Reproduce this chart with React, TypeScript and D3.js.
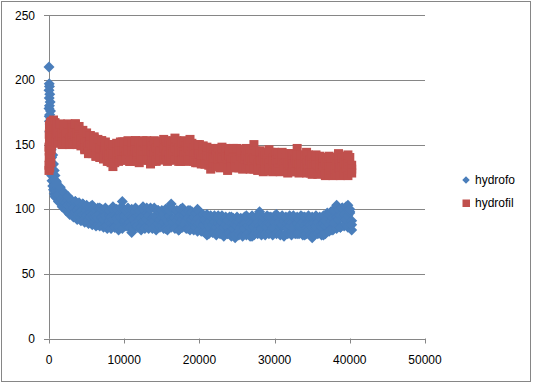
import React from "react";
import * as d3 from "d3";

const timeValues: number[] = [
  0, 30, 60, 100, 150, 200, 250, 300, 350, 400, 500, 600, 700, 800, 900,
  1000, 1250, 1500, 1750, 2000, 2250, 2500, 2750, 3000, 3250, 3500, 3750, 4000, 4250, 4500, 4750,
  5000, 5250, 5500, 5750, 6000, 6250, 6500, 6750, 7000, 7250, 7500, 7750, 8000, 8250, 8500, 8750,
  9000, 9250, 9500, 9750, 10000, 10250, 10500, 10750, 11000, 11250, 11500, 11750, 12000, 12250, 12500, 12750,
  13000, 13250, 13500, 13750, 14000, 14250, 14500, 14750, 15000, 15250, 15500, 15750, 16000, 16250, 16500, 16750,
  17000, 17250, 17500, 17750, 18000, 18250, 18500, 18750, 19000, 19250, 19500, 19750, 20000, 20250, 20500, 20750,
  21000, 21250, 21500, 21750, 22000, 22250, 22500, 22750, 23000, 23250, 23500, 23750, 24000, 24250, 24500, 24750,
  25000, 25250, 25500, 25750, 26000, 26250, 26500, 26750, 27000, 27250, 27500, 27750, 28000, 28250, 28500, 28750,
  29000, 29250, 29500, 29750, 30000, 30250, 30500, 30750, 31000, 31250, 31500, 31750, 32000, 32250, 32500, 32750,
  33000, 33250, 33500, 33750, 34000, 34250, 34500, 34750, 35000, 35250, 35500, 35750, 36000, 36250, 36500, 36750,
  37000, 37250, 37500, 37750, 38000, 38250, 38500, 38750, 39000, 39250, 39500, 39750, 40000, 40250,
];

// hydrofo, first reading at each time
const hydrofoA: number[] = [
  210, 197, 195, 189, 183, 176, 170, 163, 156, 150, 142, 135, 130, 126, 122,
  118, 112, 115, 108, 110, 103, 107, 99, 104, 96, 106, 94, 101, 93, 104, 92,
  99, 91, 97, 103, 90, 96, 88, 101, 93, 87, 98, 85, 95, 89, 102, 86,
  94, 84, 97, 106, 91, 99, 87, 95, 82, 93, 98, 86, 96, 84, 102, 90,
  97, 85, 101, 88, 94, 84, 99, 91, 87, 96, 85, 100, 89, 104, 92, 86,
  98, 84, 95, 101, 88, 97, 85, 99, 90, 94, 86, 100, 89, 95, 83, 91,
  80, 90, 85, 93, 82, 89, 95, 84, 90, 79, 92, 86, 81, 94, 85, 78,
  90, 83, 92, 80, 88, 95, 82, 90, 79, 87, 93, 84, 98, 86, 91, 80,
  89, 94, 83, 90, 85, 96, 82, 91, 87, 79, 93, 85, 90, 83, 95, 88,
  81, 92, 86, 94, 80, 89, 84, 93, 78, 90, 85, 92, 83, 88, 80, 91,
  86, 96, 84, 99, 89, 103, 92, 86, 101, 94, 88, 103, 97, 84,
];

// hydrofo, second reading at each time
const hydrofoB: number[] = [
  178, 172, 168, 160, 150, 143, 136, 130, 126, 122, 118, 115, 112, 110, 109,
  114, 111, 110, 108, 106, 105, 103, 102,
  100, 101, 98, 99, 97, 98, 96, 97,
  95, 97, 94, 96, 94, 95, 93, 96,
  94, 92, 95, 93, 91, 94, 92, 95,
  93, 90, 94, 92, 95, 91, 93, 90,
  94, 92, 89, 95, 91, 93, 90, 94,
  92, 95, 90, 93, 91, 94, 89, 92,
  94, 90, 93, 91, 95, 92, 90, 93,
  91, 94, 90, 92, 95, 91, 93, 89,
  92, 94, 90, 93, 89, 91, 88, 92,
  90, 87, 91, 88, 90, 86, 89, 87,
  90, 86, 88, 91, 87, 89, 85, 88,
  87, 90, 86, 88, 85, 89, 87, 86,
  89, 86, 88, 90, 87, 85, 89, 87,
  86, 89, 88, 85, 90, 87, 89, 86,
  88, 91, 86, 89, 87, 90, 85, 88,
  89, 86, 88, 90, 87, 85, 89, 88,
  86, 89, 87, 90, 88, 86, 89, 87,
  90, 88, 91, 93, 90, 94, 92, 95,
  93, 96, 92, 95, 98, 91,
];

// hydrofo, third reading at each time
const hydrofoC: number[] = [
  192, 186, 180, 173, 166, 160, 153, 146, 140, 134, 127, 122, 118, 114, 111,
  121, 106, 117, 102, 113, 99, 110, 96,
  107, 94, 106, 92, 105, 91, 104, 90,
  103, 89, 102, 88, 101, 87, 101, 87,
  100, 86, 101, 87, 99, 85, 100, 86,
  100, 86, 101, 85, 100, 87, 101, 86,
  100, 85, 101, 87, 99, 86, 100, 85,
  101, 86, 100, 85, 101, 87, 99, 86,
  99, 85, 100, 84, 99, 86, 100, 85,
  99, 84, 100, 86, 98, 85, 99, 84,
  98, 84, 97, 83, 98, 83, 96, 82,
  96, 81, 95, 82, 95, 80, 94, 81,
  95, 80, 94, 81, 94, 79, 93, 80,
  94, 80, 93, 79, 94, 80, 93, 79,
  95, 80, 94, 81, 95, 80, 94, 81,
  95, 81, 94, 80, 95, 81, 94, 80,
  95, 80, 94, 81, 95, 80, 94, 81,
  94, 81, 95, 80, 94, 81, 95, 80,
  94, 80, 95, 81, 94, 80, 95, 81,
  97, 83, 98, 84, 99, 85, 100, 86,
  101, 87, 102, 86, 100, 88,
];

// hydrofil, first reading at each time
const hydrofilA: number[] = [
  130, 140, 135, 132, 138, 142, 136, 155, 150, 163, 166, 168, 160, 164, 158,
  160, 152, 165, 157, 162, 153, 159, 150, 156, 163, 166, 154, 161, 150, 157, 146,
  155, 143, 152, 147, 155, 141, 150, 144, 153, 139, 148, 142, 137, 146, 133, 144,
  140, 150, 138, 152, 145, 141, 150, 137, 147, 139, 153, 143, 136, 148, 140, 151,
  138, 146, 135, 149, 142, 137, 152, 144, 139, 154, 141, 148, 138, 150, 143, 155,
  140, 147, 137, 152, 144, 149, 139, 154, 142, 147, 136, 150, 143, 139, 148, 135,
  145, 138, 131, 142, 136, 146, 133, 140, 148, 137, 143, 130, 141, 136, 147, 134,
  142, 138, 145, 131, 140, 147, 135, 143, 138, 150, 139, 133, 145, 137, 129, 141,
  136, 146, 132, 140, 135, 143, 131, 138, 144, 134, 140, 128, 137, 143, 133, 139,
  147, 136, 130, 141, 135, 144, 131, 138, 127, 136, 142, 132, 139, 129, 137, 126,
  134, 141, 130, 137, 127, 135, 143, 131, 138, 128, 136, 142, 130, 134,
];

// hydrofil, second reading at each time
const hydrofilB: number[] = [
  148, 158, 165, 145, 155, 167, 160, 162, 168, 158, 161, 163, 165, 157, 162,
  158, 160, 157, 159, 156, 158, 160, 155,
  158, 160, 157, 159, 156, 154, 153, 151,
  152, 149, 151, 148, 150, 146, 148, 147,
  147, 145, 146, 143, 142, 144, 141, 143,
  144, 146, 143, 145, 147, 144, 146, 143,
  145, 142, 146, 144, 147, 143, 145, 142,
  146, 143, 145, 142, 144, 147, 143, 145,
  144, 147, 143, 145, 142, 146, 144, 147,
  145, 143, 146, 144, 142, 145, 147, 143,
  145, 142, 144, 146, 143, 141, 144, 140,
  142, 139, 141, 138, 140, 142, 139, 141,
  140, 138, 141, 139, 142, 138, 140, 137,
  140, 138, 141, 137, 139, 141, 138, 140,
  137, 140, 138, 136, 139, 137, 140, 136,
  138, 136, 139, 137, 135, 138, 136, 139,
  137, 135, 138, 136, 134, 137, 135, 138,
  136, 134, 137, 135, 133, 136, 134, 137,
  135, 133, 136, 134, 132, 135, 133, 136,
  134, 132, 135, 133, 131, 134, 132, 135,
  133, 136, 132, 135, 134, 131,
];

// hydrofil, third reading at each time
const hydrofilC: number[] = [
  134, 145, 152, 160, 141, 150, 165, 146, 158, 167, 153, 169, 155, 167, 152,
  165, 151, 166, 150, 165, 152, 166, 151,
  165, 151, 166, 150, 164, 149, 161, 147,
  159, 144, 157, 143, 156, 141, 154, 140,
  153, 139, 152, 137, 150, 136, 150, 136,
  151, 137, 152, 138, 152, 138, 153, 137,
  152, 138, 153, 137, 152, 139, 153, 138,
  153, 138, 152, 137, 153, 138, 152, 139,
  152, 138, 153, 137, 152, 139, 153, 138,
  153, 137, 152, 138, 153, 137, 152, 138,
  151, 137, 150, 136, 150, 135, 149, 135,
  148, 134, 147, 133, 147, 133, 147, 132,
  147, 133, 147, 132, 146, 133, 147, 132,
  147, 132, 146, 133, 146, 132, 146, 131,
  145, 131, 145, 130, 145, 131, 144, 130,
  144, 130, 144, 129, 144, 130, 143, 129,
  143, 130, 143, 129, 143, 129, 142, 129,
  142, 128, 142, 129, 141, 128, 142, 128,
  141, 128, 141, 127, 141, 128, 140, 127,
  140, 127, 140, 126, 140, 127, 139, 126,
  140, 127, 141, 126, 140, 128,
];

const xTicks: number[] = [0, 10000, 20000, 30000, 40000, 50000];
const yTicks: number[] = [0, 50, 100, 150, 200, 250];
const seriesNames: string[] = ["hydrofo", "hydrofil"];

const W = 533;
const H = 384;
const plot = { left: 49, right: 425, top: 15.3, bottom: 338.5 };
const gray = "#868686";
const font = "'Liberation Sans', Arial, sans-serif";
const blue = "#4A7EBB";
const red = "#C0504D";
const sq = 9;

export default function App() {
  const x = d3.scaleLinear().domain([0, 50000]).range([plot.left, plot.right]);
  const y = d3.scaleLinear().domain([0, 250]).range([plot.bottom, plot.top]);
  const diamond = d3.symbol().type(d3.symbolDiamond2).size(77)();
  const diamondLegend = d3.symbol().type(d3.symbolDiamond2).size(36)();

  const blueData: [number, number][] = [];
  const redData: [number, number][] = [];
  timeValues.forEach((t, i) => {
    blueData.push([t, hydrofoA[i]], [t, hydrofoB[i]], [t, hydrofoC[i]]);
    redData.push([t, hydrofilA[i]], [t, hydrofilB[i]], [t, hydrofilC[i]]);
  });

  return (
    <svg
      width={W}
      height={H}
      style={{ position: "fixed", left: 0, top: 0, background: "#fff" }}
      fontFamily={font}
    >
      <rect x={0} y={0} width={W} height={H} fill="#fff" />
      <rect x={1.5} y={1.5} width={529} height={380} fill="none" stroke={gray} strokeWidth={1} />
      {yTicks.filter((v) => v > 0).map((v) => (
        <line key={"g" + v} x1={plot.left} x2={plot.right} y1={Math.round(y(v)) + 0.5} y2={Math.round(y(v)) + 0.5} stroke={gray} strokeWidth={1} />
      ))}
      <line x1={plot.left + 0.5} x2={plot.left + 0.5} y1={plot.top} y2={plot.bottom} stroke={gray} />
      <line x1={plot.left} x2={plot.right} y1={Math.round(plot.bottom) + 0.5} y2={Math.round(plot.bottom) + 0.5} stroke={gray} />
      {yTicks.map((v) => (
        <g key={"yt" + v}>
          <line x1={plot.left - 5} x2={plot.left} y1={Math.round(y(v)) + 0.5} y2={Math.round(y(v)) + 0.5} stroke={gray} />
          <text x={35} y={y(v)} dy="0.35em" textAnchor="end" fontSize={12} fill="#000">{v}</text>
        </g>
      ))}
      {xTicks.map((v) => (
        <g key={"xt" + v}>
          <line x1={Math.round(x(v)) + 0.5} x2={Math.round(x(v)) + 0.5} y1={plot.bottom} y2={plot.bottom + 5} stroke={gray} />
          <text x={x(v)} y={360} dy="0.35em" textAnchor="middle" fontSize={12} fill="#000">{v}</text>
        </g>
      ))}
      <g>
        {blueData.map(([t, v], i) => (
          <path key={"b" + i} d={diamond!} transform={`translate(${x(t)},${y(v)})`} fill={blue} />
        ))}
      </g>
      <g>
        {redData.map(([t, v], i) => (
          <rect key={"r" + i} x={x(t) - sq / 2} y={y(v) - sq / 2} width={sq} height={sq} fill={red} />
        ))}
      </g>
      <g>
        <path d={diamondLegend!} transform="translate(466,180)" fill={blue} />
        <text x={475} y={180} dy="0.35em" fontSize={12} fill="#000">{seriesNames[0]}</text>
        <rect x={462.5} y={199.5} width={7.5} height={7.5} fill={red} />
        <text x={475} y={203} dy="0.35em" fontSize={12} fill="#000">{seriesNames[1]}</text>
      </g>
    </svg>
  );
}
